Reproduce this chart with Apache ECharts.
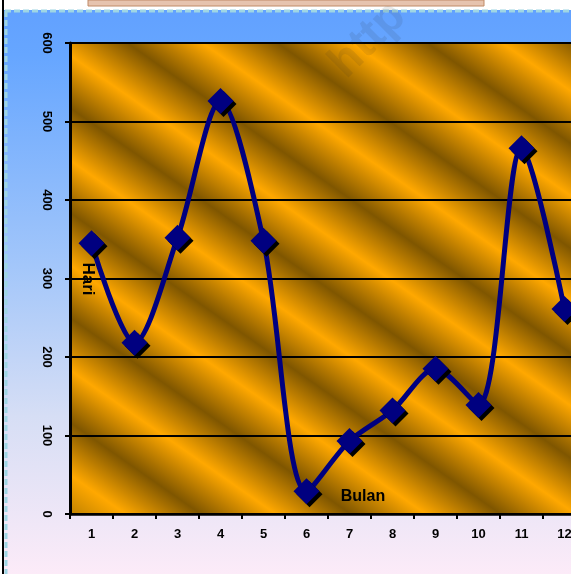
<!DOCTYPE html>
<html><head><meta charset="utf-8">
<script src="https://cdn.jsdelivr.net/npm/echarts@6/dist/echarts.min.js"></script>
<style>html,body{margin:0;padding:0;background:#fff}#c{width:571px;height:574px}</style>
</head><body><div id="c"></div>
<script>
var months = ['1','2','3','4','5','6','7','8','9','10','11','12'];
var hari = [345, 218, 352, 526, 348, 29, 93, 132, 185, 139, 466, 261];
var yTicks = [0, 100, 200, 300, 400, 500, 600];

var chart = echarts.init(document.getElementById('c'), null, {renderer:'canvas'});

// striped plot background (diagonal bands)
var L = 70, T = 43, R = 586, B = 514;
var dx = 0.573, dy = -0.819, span = 700, period = 86, darkPhase = 75;
var stops = [];
var light = '#ffa800', dark = '#7f5600';
for (var t = darkPhase - period; t <= span + period; t += period / 2) {
  var k = Math.round((t - darkPhase) / (period / 2));
  var c = (k % 2 === 0) ? dark : light;
  var off = t / span;
  if (off >= 0 && off <= 1) stops.push({offset: off, color: c});
}
stops.unshift({offset:0, color:'#c08200'});
stops.push({offset:1, color:'#c08200'});
var stripe = new echarts.graphic.LinearGradient(L, B, L + dx * span, B + dy * span, stops, true);

var option = {
  backgroundColor: '#ffffff',
  animation: false,
  graphic: [
    {type:'rect', z:-10, shape:{x:4, y:10, width:567, height:564},
     style:{fill: new echarts.graphic.LinearGradient(0,0,0,1,[
       {offset:0, color:'#62a1ff'},{offset:0.08, color:'#66a6ff'},{offset:0.45, color:'#a2c6fa'},
       {offset:0.72, color:'#d6def5'},{offset:1, color:'#fcebf8'}])}},
    {type:'line', z:-9, shape:{x1:5, y1:11, x2:571, y2:11}, style:{stroke:'#9fd6e4', lineWidth:3, lineDash:[6,3]}},
    {type:'line', z:-9, shape:{x1:6, y1:11, x2:6, y2:574}, style:{stroke:'#9fd6e4', lineWidth:3, lineDash:[6,3]}},
    {type:'line', z:-8, shape:{x1:3, y1:0, x2:3, y2:574}, style:{stroke:'#000', lineWidth:2}},
    {type:'rect', z:-8, shape:{x:88, y:0, width:396, height:6}, style:{fill:'#e6c3ae', stroke:'#c08a66', lineWidth:1}},
    {type:'text', z:100, x:88, y:279, rotation:-Math.PI/2,
     style:{text:'Hari', font:'bold 17px "Liberation Sans", Arial, sans-serif', fill:'#000', align:'center', verticalAlign:'middle'}},
    {type:'text', z:100, x:363, y:497,
     style:{text:'Bulan', font:'bold 16px "Liberation Sans", Arial, sans-serif', fill:'#000', align:'center', verticalAlign:'middle'}},
    {type:'text', z:200, x:368, y:40, rotation:Math.PI/4,
     style:{text:'http', font:'bold 46px "Liberation Sans", Arial, sans-serif', fill:'rgba(40,40,40,0.10)', align:'center', verticalAlign:'middle'}}
  ],
  grid: {left: L, top: T, width: R - L, height: B - T, show: true, backgroundColor: stripe, borderWidth: 0,
         outerBoundsMode: 'none', containLabel: false},
  xAxis: {
    type: 'category', data: months, boundaryGap: true,
    axisLine: {lineStyle: {color:'#000', width: 2.5}},
    axisTick: {show: true, length: 5, lineStyle: {color:'#000', width: 2}},
    axisLabel: {color:'#000', fontWeight:'bold', fontSize:13, fontFamily:'"Liberation Sans", Arial, sans-serif', margin: 14}
  },
  yAxis: {
    type: 'value', min: yTicks[0], max: yTicks[yTicks.length-1], interval: 100,
    axisLine: {show: true, lineStyle: {color:'#000', width: 3}},
    axisTick: {show: true, length: 5, lineStyle: {color:'#000', width: 2}},
    axisLabel: {color:'#000', fontWeight:'bold', fontSize:13, fontFamily:'"Liberation Sans", Arial, sans-serif', rotate: -90, margin: 17},
    splitLine: {show: true, lineStyle: {color:'#000', width: 2}}
  },
  series: [{
    type: 'line', data: hari, smooth: 0.3,
    symbol: 'diamond', symbolSize: 26,
    lineStyle: {color:'#000080', width: 5},
    itemStyle: {color:'#000080', shadowColor:'#000', shadowOffsetX: 3, shadowOffsetY: 3, shadowBlur: 0},
    z: 5
  }]
};
chart.setOption(option);
</script></body></html>
